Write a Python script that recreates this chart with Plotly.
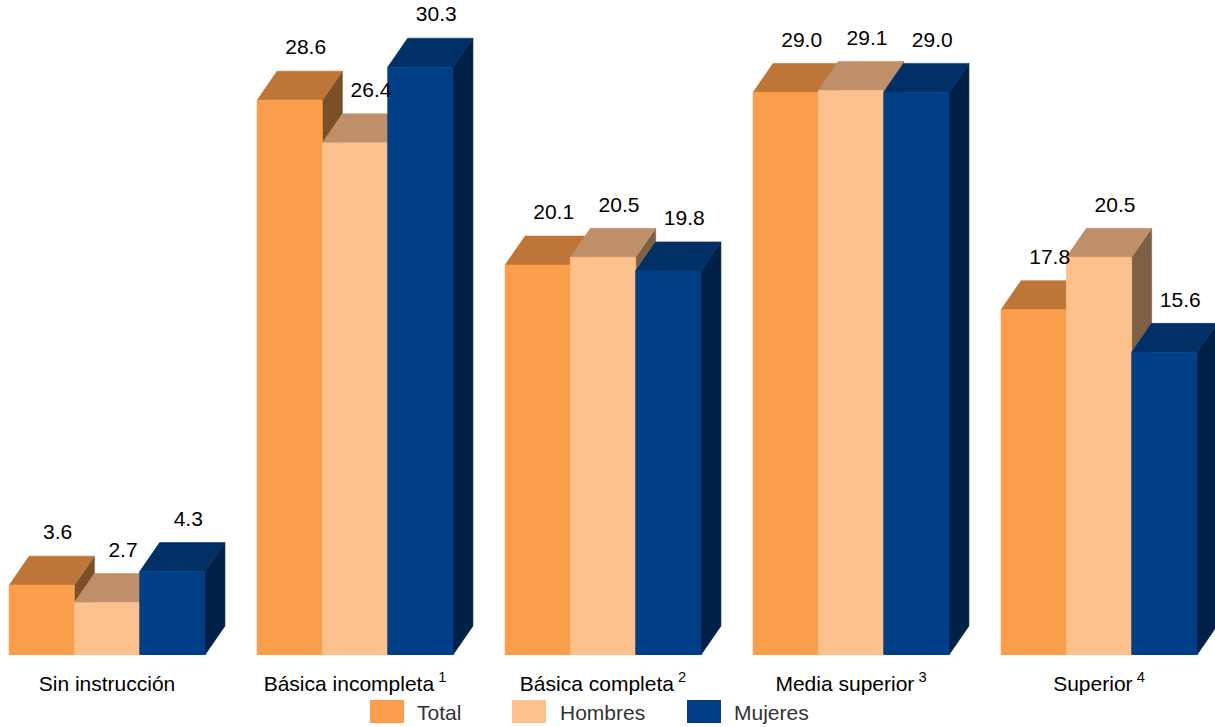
import plotly.graph_objects as go

# Datos (porcentaje) por nivel de instrucción
categorias = ["Sin instrucción", "Básica incompleta", "Básica completa", "Media superior", "Superior"]
notas = ["", "1", "2", "3", "4"]
series = ["Total", "Hombres", "Mujeres"]
total = [3.6, 28.6, 20.1, 29.0, 17.8]
hombres = [2.7, 26.4, 20.5, 29.1, 20.5]
mujeres = [4.3, 30.3, 19.8, 29.0, 15.6]
valores = [total, hombres, mujeres]

# colores: frente, tapa, lateral
colores = {
    "Total": ("#FB9E4B", "#BE7638", "#7C5026"),
    "Hombres": ("#FCC08C", "#BF8F69", "#7E6045"),
    "Mujeres": ("#003F87", "#003066", "#002147"),
}

W, H = 1215, 727
BOTTOM = 72
PX_X = 248.0          # pixeles por grupo
PX_Y = 19.4           # pixeles por unidad
bw = 65.3 / PX_X      # ancho de barra
dx = 20 / PX_X        # profundidad en x
dy = 29 / PX_Y        # profundidad en y
FONT = "Liberation Sans, Arial, sans-serif"

fig = go.Figure()


def poly(xs, ys, color):
    fig.add_trace(go.Scatter(
        x=xs + [xs[0]], y=ys + [ys[0]],
        mode="lines", fill="toself", fillcolor=color,
        line=dict(color=color, width=0.6),
        hoverinfo="skip", showlegend=False,
    ))


lab_x, lab_y, lab_t = [], [], []
for g in range(len(categorias)):
    for j, name in enumerate(series):
        v = valores[j][g]
        front, top, side = colores[name]
        x0 = g - 1.5 * bw + j * bw
        x1 = x0 + bw
        poly([x1, x1 + dx, x1 + dx, x1], [0, dy, v + dy, v], side)
        poly([x0, x1, x1 + dx, x0 + dx], [v, v, v + dy, v + dy], top)
        poly([x0, x1, x1, x0], [0, 0, v, v], front)
        lab_x.append((x0 + x1) / 2 + dx * 0.8)
        lab_y.append(v + dy + 22 / PX_Y)
        lab_t.append(f"{v:.1f}")

fig.add_trace(go.Scatter(
    x=lab_x, y=lab_y, text=lab_t, mode="text",
    textposition="middle center",
    textfont=dict(family=FONT, size=21, color="black"),
    hoverinfo="skip", showlegend=False,
))

ticktext = [c + (f"<sup> {n}</sup>" if n else "") for c, n in zip(categorias, notas)]

# leyenda manual (cuadros grandes como en el original)
def py(p):
    return (H - BOTTOM - p) / (H - BOTTOM)

leg_sw = [370, 512, 687]
leg_tx = [415, 558, 732]
shapes, annots = [], []
for name, sx, tx in zip(series, leg_sw, leg_tx):
    shapes.append(dict(type="rect", xref="paper", yref="paper",
                       x0=sx / W, x1=(sx + 34) / W, y0=py(723), y1=py(700),
                       fillcolor=colores[name][0], line=dict(width=0)))
    annots.append(dict(xref="paper", yref="paper", x=tx / W, y=py(712),
                       text=name, showarrow=False, xanchor="left", yanchor="middle",
                       font=dict(family=FONT, size=21, color="#333333")))

fig.update_layout(
    width=W, height=H,
    margin=dict(l=0, r=0, t=0, b=BOTTOM),
    plot_bgcolor="white", paper_bgcolor="white",
    shapes=shapes, annotations=annots,
    xaxis=dict(range=[-107 / PX_X, (W - 107) / PX_X], tickvals=list(range(len(categorias))),
               ticktext=ticktext, showgrid=False, zeroline=False, showline=False,
               ticks="", ticklabelstandoff=14,
               tickfont=dict(family=FONT, size=21, color="black")),
    yaxis=dict(range=[0, (H - BOTTOM) / PX_Y], visible=False),
    showlegend=False,
)

fig.write_html("out.html", config={"displayModeBar": False},
               post_script="document.body.style.margin='0';document.body.style.overflow='hidden';")
